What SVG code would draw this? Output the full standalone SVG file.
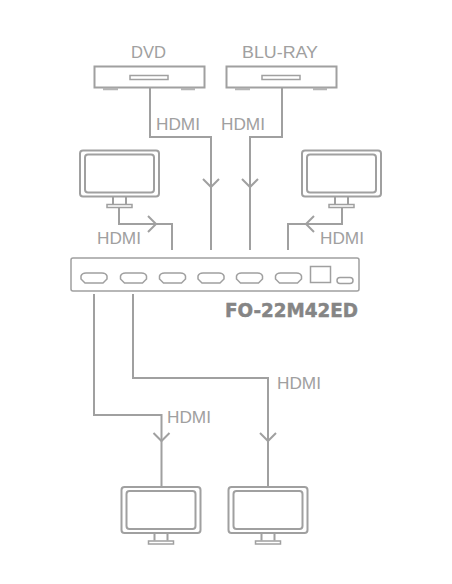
<svg xmlns="http://www.w3.org/2000/svg" width="452" height="584" viewBox="0 0 452 584">
<style>
.s{fill:none;stroke:#a0a0a0;stroke-width:2}
.t{stroke-width:1.500}
text{font-family:"Liberation Sans",Arial,sans-serif;font-size:17px;fill:#a0a0a0}
.m{font-family:"DejaVu Sans",sans-serif;font-weight:700;font-size:19px;fill:#858585;stroke:#858585;stroke-width:.5}
</style>
<defs>
<g id="mon" class="s">
<rect x="0" y="0.500" width="79" height="46" rx="3"/>
<rect x="5" y="4.500" width="69" height="38" rx="3"/>
<path d="M33 47V54M46 47V54"/>
<rect x="27" y="54.500" width="25" height="3" class="t"/>
</g>
<g id="player" class="s">
<rect x="0.500" y="0.500" width="110" height="21"/>
<rect x="36" y="9.500" width="38" height="4" class="t"/>
<path d="M9 23H24M87 23H101" stroke-width="2.500" stroke="#b5b5b5"/>
</g>
<path id="port" class="s t" d="M5 0H21Q25 0 26 3V6L22 10H4L0 6V3Q1 0 5 0Z"/>
</defs>
<g id="connectors" class="s">
<path d="M150 87V137H211V250"/><path d="M203 179L211 187L219 179"/>
<path d="M282 87V137H250V250"/><path d="M242 179L250 187L258 179"/>
<path d="M119 208V224H172V250"/><path d="M148 216L156 224L148 232"/>
<path d="M342 208V224H288V250"/><path d="M314 216L306 224L314 232"/>
<path d="M94 294V415H161.500V486"/><path d="M153.500 433L161.500 441L169.500 433"/>
<path d="M133 294V378H268V486"/><path d="M260 433L268 441L276 433"/>
</g>
<g id="dvd"><use href="#player" x="94" y="66"/><text x="131" y="58" textLength="35" lengthAdjust="spacingAndGlyphs">DVD</text></g>
<g id="bluray"><use href="#player" x="226" y="66"/><text x="242" y="58" textLength="76" lengthAdjust="spacingAndGlyphs">BLU-RAY</text></g>
<g id="monitor-left"><use href="#mon" x="80" y="150"/></g>
<g id="monitor-right"><use href="#mon" x="302" y="150"/></g>
<g id="switch">
<rect class="s t" x="71" y="258" width="288" height="33" rx="2"/>
<use href="#port" x="81" y="273"/><use href="#port" x="120.500" y="273"/><use href="#port" x="159.500" y="273"/><use href="#port" x="198" y="273"/><use href="#port" x="236.500" y="273"/><use href="#port" x="275.500" y="273"/>
<rect class="s t" x="310.500" y="266.500" width="20" height="16"/>
<rect class="s t" x="337" y="277.500" width="16" height="6" rx="3"/>
<text class="m" x="225" y="317" textLength="133" lengthAdjust="spacingAndGlyphs">FO-22M42ED</text>
</g>
<g id="monitor-bottom-1"><use href="#mon" x="121.500" y="486.500"/></g>
<g id="monitor-bottom-2"><use href="#mon" x="228.500" y="486.500"/></g>
<g id="labels">
<text x="156" y="130" textLength="44" lengthAdjust="spacingAndGlyphs">HDMI</text>
<text x="221" y="130" textLength="44" lengthAdjust="spacingAndGlyphs">HDMI</text>
<text x="97" y="244" textLength="44" lengthAdjust="spacingAndGlyphs">HDMI</text>
<text x="320" y="244" textLength="44" lengthAdjust="spacingAndGlyphs">HDMI</text>
<text x="277" y="389" textLength="44" lengthAdjust="spacingAndGlyphs">HDMI</text>
<text x="167" y="423" textLength="44" lengthAdjust="spacingAndGlyphs">HDMI</text>
</g>
</svg>
